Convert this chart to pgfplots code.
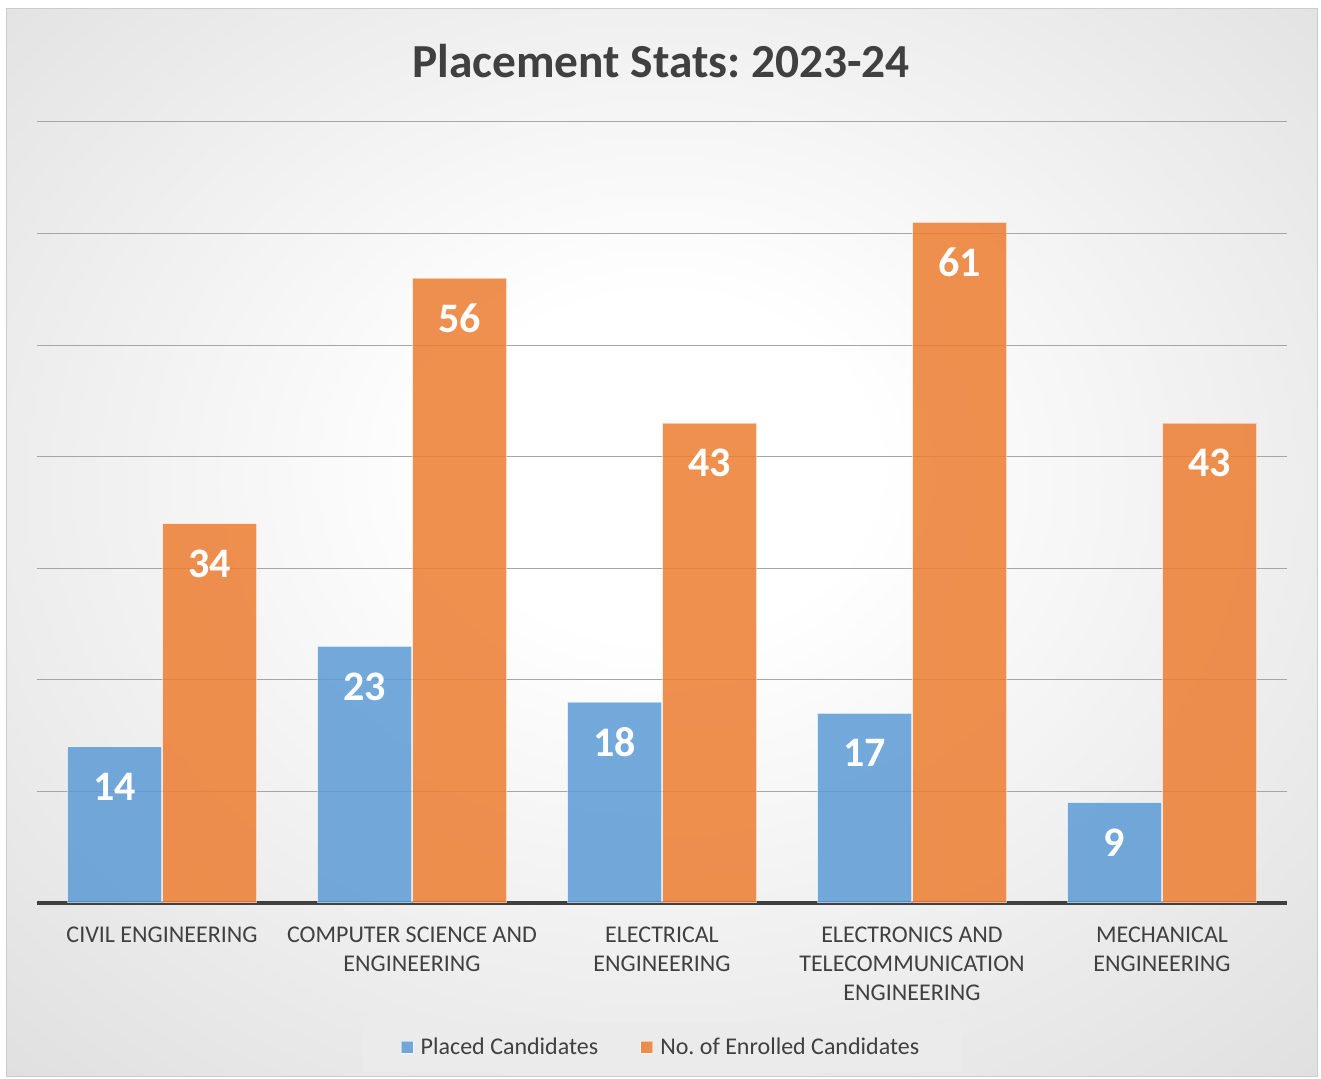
\documentclass[border=0pt]{standalone}
\usepackage{pgfplots}
\pgfplotsset{compat=1.18}
\usepackage{fontspec}
\setmainfont{Carlito}
\frenchspacing
\definecolor{txt}{HTML}{404040}
\definecolor{cblue}{HTML}{5B9BD5}
\definecolor{corange}{HTML}{ED7D31}
\definecolor{bgmid}{HTML}{D6D6D6}
\definecolor{bgedge}{HTML}{BEBEBE}
\definecolor{gridc}{HTML}{A6A6A6}
\definecolor{legbg}{HTML}{EBEBEB}
\pgfdeclareradialshading{chartbg}{\pgfpoint{0bp}{4bp}}{color(0bp)=(white); color(8bp)=(white); color(46bp)=(bgmid); color(72bp)=(bgedge)}
\begin{document}
\begin{tikzpicture}[x=1pt,y=1pt]
\fill[white] (0,0) rectangle (660.5,539.5);
\useasboundingbox (0,0) rectangle (660.5,539.5);
\shade[shading=chartbg] (3,1) rectangle (658.5,535);
\draw[black!20, line width=0.5pt] (3,1) rectangle (658.5,535);
\node[font=\bfseries\fontsize{23.7}{24}\selectfont, text=txt] at (330.5,509) {Placement Stats: 2023-24};
\begin{axis}[
  at={(18.5pt,88pt)}, anchor=south west, scale only axis,
  width=625pt, height=390.5pt,
  ymin=0, ymax=70, xmin=-0.5, xmax=4.5,
  ybar=0.5pt, bar width=47pt,
  xtick={0,1,2,3,4},
  xticklabels={{CIVIL ENGINEERING},{COMPUTER SCIENCE AND\\ENGINEERING},{ELECTRICAL\\ENGINEERING},{ELECTRONICS AND\\TELECOMMUNICATION\\ENGINEERING},{MECHANICAL\\ENGINEERING}},
  xticklabel style={align=center, font=\fontsize{12}{14.5}\selectfont, text=txt, yshift=-8.5pt},
  ytick={10,20,...,70}, yticklabels={},
  ymajorgrids, grid style={gridc, line width=0.5pt},
  major tick length=0pt,
  axis x line*=bottom, axis y line*=left,
  x axis line style={line width=2pt, color=txt, -},
  y axis line style={draw=none},
  nodes near coords,
  every node near coord/.append style={font=\bfseries\fontsize{21}{21}\selectfont, text=white, text opacity=1, anchor=center, yshift=-20pt},
  /pgf/number format/assume math mode=true,
  legend style={at={(0.5,-0.185)}, anchor=center, legend columns=2, fill=legbg, draw=none,
    font=\fontsize{12}{14}\selectfont, text=txt, inner xsep=19pt, inner ysep=5.5pt,
    /tikz/every even column/.append style={column sep=19pt}},
  legend image code/.code={\fill[#1] (0pt,-3pt) rectangle (6pt,3pt); \path (7.5pt,0pt);},
]
\addplot[fill=cblue, fill opacity=0.85, draw=white, draw opacity=0.5, line width=0.5pt]
  coordinates {(0,14) (1,23) (2,18) (3,17) (4,9)};
\addplot[fill=corange, fill opacity=0.85, draw=white, draw opacity=0.5, line width=0.5pt]
  coordinates {(0,34) (1,56) (2,43) (3,61) (4,43)};
\legend{Placed Candidates, No. of Enrolled Candidates}
\end{axis}
\end{tikzpicture}
\end{document}
